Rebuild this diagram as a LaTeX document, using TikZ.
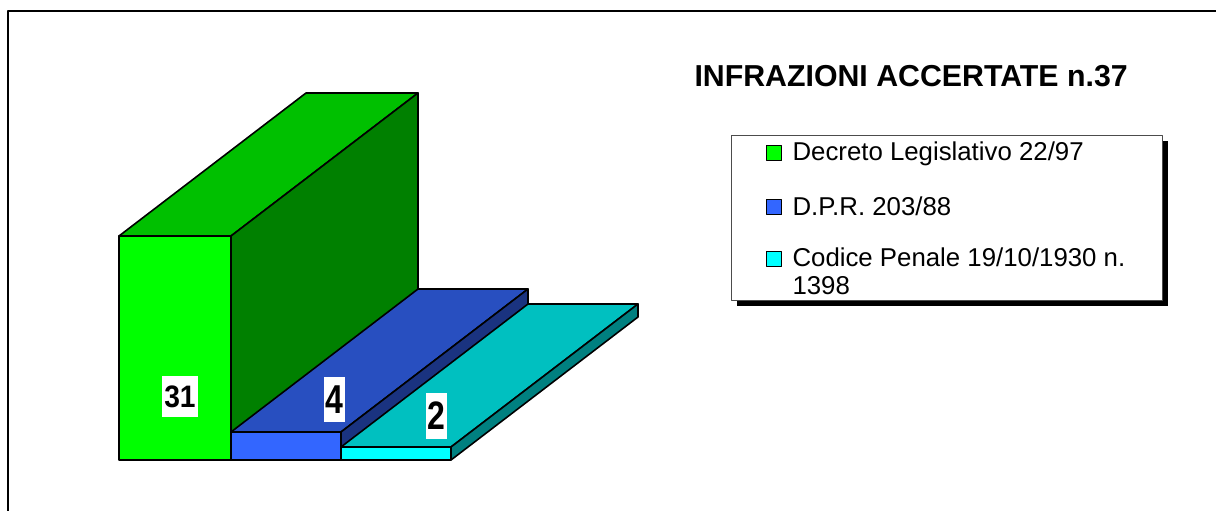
\documentclass[tikz,border=0pt]{standalone}
\usepackage{fontspec}
\setmainfont{Liberation Sans}
\usetikzlibrary{positioning}
\definecolor{grfront}{HTML}{00FF00}
\definecolor{grtop}{HTML}{00C000}
\definecolor{grside}{HTML}{008000}
\definecolor{blfront}{HTML}{3366FF}
\definecolor{bltop}{HTML}{284FC0}
\definecolor{blside}{HTML}{1A3380}
\definecolor{cyfront}{HTML}{00FFFF}
\definecolor{cytop}{HTML}{00C0C0}
\definecolor{cyside}{HTML}{008080}
\begin{document}
\begin{tikzpicture}[x=1pt,y=-1pt,line join=round,
  face/.style={draw=black,line width=1.6pt},
  val/.style={fill=white,inner xsep=2pt,inner ysep=9pt,font=\fontsize{32}{32}\selectfont\bfseries},
  key/.style={draw=black,line width=1.4pt,minimum size=15pt,inner sep=0,anchor=north west},
  entry/.style={anchor=base west,font=\fontsize{25.8}{28}\selectfont,align=left}]
\useasboundingbox (0,0) rectangle (1216,511);
\draw[line width=1.4pt](8,511)--(8,11)--(1216,11);
% bars: left, right, top, colour
\foreach \l/\r/\t/\c in {119/231/236/gr,231/341/432/bl,341/451/447/cy}{
  \fill[\c front,face](\l,\t)rectangle(\r,460);
  \fill[\c top,face](\l,\t)--(\r,\t)--++(187,-143)--++(-\r+\l,0)--cycle;
  \fill[\c side,face](\r,\t)--++(187,-143)--++(0,460-\t)--(\r,460)--cycle;
}
\node[val](v1)at(180,396.5){\scalebox{0.88}[0.97]{31}};
\node[val](v2)at(334.5,399.5){\scalebox{1}[1.26]{4}};
\node[val](v3)at(436.5,416){\scalebox{1}[1.24]{2}};
% title and legend
\node[anchor=base west,font=\fontsize{30.3}{30.3}\selectfont\bfseries](T)at(691,87){INFRAZIONI ACCERTATE n.37};
\fill[black](737,141)rectangle(1168,306);
\draw[draw=black!70,fill=white,line width=1pt](731,135)rectangle(1162,300);
\node[key,fill=grfront](k1)at(766,145){};
\node[key,fill=blfront](k2)at(766,199){};
\node[key,fill=cyfront](k3)at(766,251){};
\node[entry](e1)at(789,160){Decreto Legislativo 22/97};
\node[entry](e2)at(789,215){D.P.R. 203/88};
\node[entry](e3)at(789,294){Codice Penale 19/10/1930 n.\\1398};
\end{tikzpicture}
\end{document}
